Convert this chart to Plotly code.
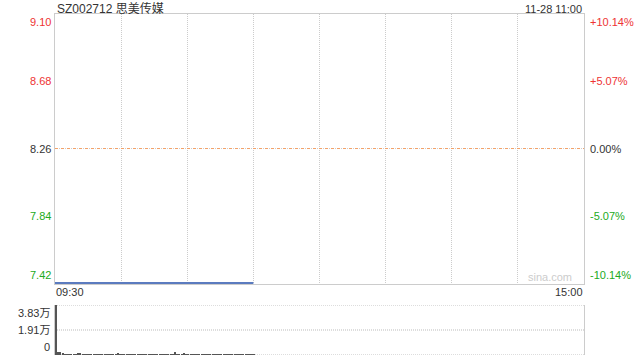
import plotly.graph_objects as go

# ---- data ----
title_text = "SZ002712 思美传媒"
stamp_text = "11-28 11:00"
prev_close = 8.26
price_ticks = [9.10, 8.68, 8.26, 7.84, 7.42]
price_labels = ["9.10", "8.68", "8.26", "7.84", "7.42"]
pct_labels = ["+10.14%", "+5.07%", "0.00%", "-5.07%", "-10.14%"]
vol_ticks = [38300, 19150, 0]
vol_labels = ["3.83万", "1.91万", "0"]
time_labels = ["09:30", "15:00"]

minutes = list(range(0, 91))          # 09:30 .. 11:00
prices = [7.42] * 91
volumes = [38300, 2300, 2000, 1800, 600, 700, 500, 600, 300, 400,
           900, 800, 700, 300, 200, 300, 200, 100, 200, 300,
           200, 100, 300, 200, 400, 300, 200, 300, 1500, 300,
           200, 300, 200, 500, 300, 200, 100, 200, 300, 200,
           600, 300, 200, 300, 200, 100, 300, 200, 300, 200,
           300, 200, 100, 300, 2500, 300, 200, 300, 900, 200,
           300, 200, 300, 200, 100, 200, 300, 200, 400, 300,
           200, 300, 200, 100, 300, 200, 300, 200, 300, 200,
           100, 200, 300, 200, 300, 200, 100, 200, 300, 700, 300]

RED = "#ee3333"
GREEN = "#22aa22"
DARK = "#333333"
GRID = "#cccccc"
DOT = "1px,1px"
FONT = "Liberation Sans, Arial, Noto Sans CJK SC, sans-serif"

def color_for(v):
    if v > prev_close + 1e-9:
        return RED
    if v < prev_close - 1e-9:
        return GREEN
    return DARK

fig = go.Figure()

# gray dotted line under the previous-close line
fig.add_trace(go.Scatter(x=[0, 240], y=[prev_close, prev_close], mode="lines",
                         line=dict(color=GRID, width=1, dash=DOT),
                         hoverinfo="skip", showlegend=False, xaxis="x", yaxis="y"))
# previous close reference line
fig.add_trace(go.Scatter(x=[0, 240], y=[prev_close, prev_close], mode="lines",
                         line=dict(color="#f4a268", width=1, dash="3px,3px"),
                         hoverinfo="skip", showlegend=False, xaxis="x", yaxis="y"))
# price line
fig.add_trace(go.Scatter(x=minutes, y=prices, mode="lines",
                         line=dict(color="#5b7bbf", width=2),
                         showlegend=False, xaxis="x", yaxis="y"))
# volume bars
fig.add_trace(go.Bar(x=minutes, y=volumes, width=0.5, offset=0.25,
                     marker=dict(color="#555555", line=dict(width=0)),
                     showlegend=False, xaxis="x2", yaxis="y2"))

main_bottom = (355 - 284) / 341
vol_top = (355 - 305) / 341

annotations = []
n = len(price_ticks)
for i, (v, lab, pl) in enumerate(zip(price_ticks, price_labels, pct_labels)):
    ya = "top" if i == 0 else ("bottom" if i == n - 1 else "middle")
    c = color_for(v)
    annotations.append(dict(x=0, xref="paper", y=v, yref="y", text=lab,
                            xanchor="right", yanchor=ya, xshift=-2,
                            showarrow=False, font=dict(family=FONT, size=11, color=c)))
    annotations.append(dict(x=1, xref="paper", y=v, yref="y", text=pl,
                            xanchor="left", yanchor=ya, xshift=4,
                            showarrow=False, font=dict(family=FONT, size=11, color=c)))

for i, (v, lab) in enumerate(zip(vol_ticks, vol_labels)):
    ya = "top" if i == 0 else ("bottom" if i == len(vol_ticks) - 1 else "middle")
    annotations.append(dict(x=0, xref="paper", y=v, yref="y2", text=lab,
                            xanchor="right", yanchor=ya, xshift=-3,
                            showarrow=False, font=dict(family=FONT, size=11, color=DARK)))

annotations += [
    dict(x=0, xref="paper", y=1, yref="paper", text=title_text, xanchor="left",
         yanchor="bottom", yshift=-4, showarrow=False,
         font=dict(family=FONT, size=12, color=DARK)),
    dict(x=1, xref="paper", y=1, yref="paper", text=stamp_text, xanchor="right",
         yanchor="bottom", yshift=-3, showarrow=False,
         font=dict(family=FONT, size=11, color=DARK)),
    dict(x=0, xref="paper", y=main_bottom, yref="paper", text=time_labels[0],
         xanchor="left", yanchor="top", xshift=-1, showarrow=False,
         font=dict(family=FONT, size=11, color=DARK)),
    dict(x=1, xref="paper", y=main_bottom, yref="paper", text=time_labels[1],
         xanchor="right", yanchor="top", xshift=1, showarrow=False,
         font=dict(family=FONT, size=11, color=DARK)),
    dict(x=1, xref="paper", y=main_bottom, yref="paper", text="sina.com",
         xanchor="right", yanchor="bottom", xshift=-10, yshift=-1, showarrow=False,
         font=dict(family=FONT, size=11, color="#cccccc")),
]

# dotted horizontal lines in the volume panel
shapes = []
for v in vol_ticks:
    shapes.append(dict(type="line", xref="x2", yref="y2", x0=0, x1=240, y0=v, y1=v,
                       line=dict(color="#bbbbbb", width=1, dash=DOT), layer="below"))

fig.update_layout(
    width=640, height=360,
    margin=dict(l=55, r=56, t=14, b=5, pad=0),
    paper_bgcolor="white", plot_bgcolor="white",
    showlegend=False, bargap=0,
    annotations=annotations, shapes=shapes,
    xaxis=dict(domain=[0, 1], range=[0, 240], anchor="y",
               tickmode="linear", tick0=0, dtick=30,
               showgrid=True, gridcolor=GRID, griddash=DOT, gridwidth=1,
               showticklabels=False, ticks="", zeroline=False,
               showline=True, mirror=True, linecolor=GRID, linewidth=1),
    yaxis=dict(domain=[main_bottom, 1], range=[7.414, 9.10], anchor="x",
               showgrid=False, showticklabels=False, ticks="", zeroline=False,
               showline=True, mirror=True, linecolor=GRID, linewidth=1),
    xaxis2=dict(domain=[0, 1], range=[0, 240], anchor="y2",
                showgrid=False, showticklabels=False, ticks="", zeroline=False,
                showline=False),
    yaxis2=dict(domain=[0, vol_top], range=[0, 38300], anchor="x2",
                showticklabels=False, ticks="", showgrid=False, zeroline=False,
                showline=True, mirror=True, linecolor=GRID, linewidth=1),
)

fig.write_html("out.html")
